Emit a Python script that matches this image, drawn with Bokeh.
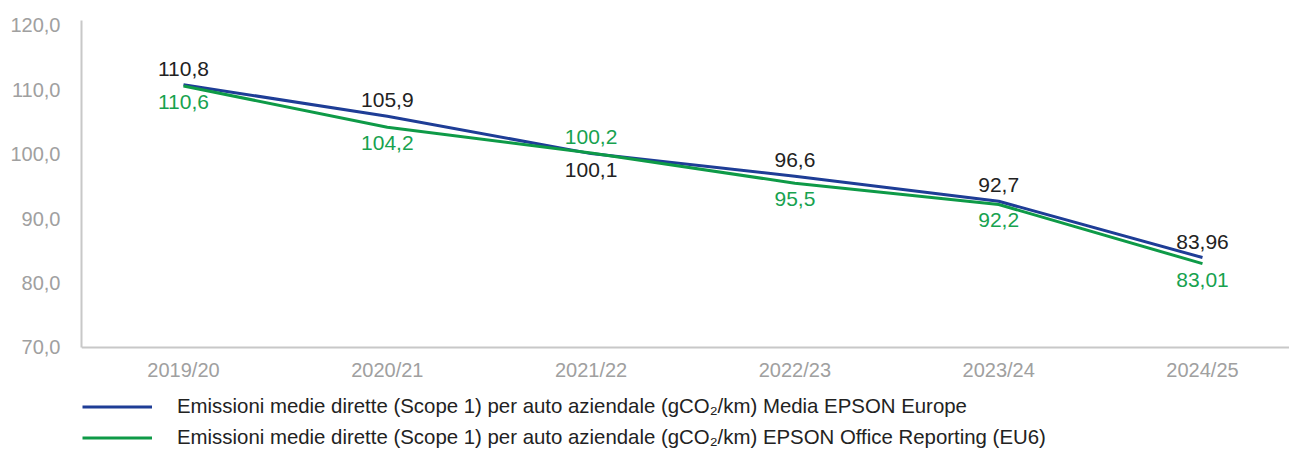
from bokeh.plotting import figure
from bokeh.models import (ColumnDataSource, Range1d, FixedTicker, Legend, LegendItem)
from bokeh.core.properties import value
from bokeh.embed import file_html
from bokeh.resources import INLINE

# ---- data ----
years = ["2019/20", "2020/21", "2021/22", "2022/23", "2023/24", "2024/25"]
europe = [110.8, 105.9, 100.1, 96.6, 92.7, 83.96]
office = [110.6, 104.2, 100.2, 95.5, 92.2, 83.01]
europe_labels = ["110,8", "105,9", "100,1", "96,6", "92,7", "83,96"]
office_labels = ["110,6", "104,2", "100,2", "95,5", "92,2", "83,01"]
europe_name = "Emissioni medie dirette (Scope 1) per auto aziendale (gCO\u2082/km) Media EPSON Europe"
office_name = "Emissioni medie dirette (Scope 1) per auto aziendale (gCO\u2082/km) EPSON Office Reporting (EU6)"
y_ticks = [70, 80, 90, 100, 110, 120]
y_axis_min = 70

# label placement (style): +1 above, -1 below
europe_place = [1, 1, -1, 1, 1, 1]
office_place = [-1, -1, 1, -1, -1, -1]

BLUE = "#1e3d96"
GREEN = "#0e9a47"
GREEN_TXT = "#17a24f"
FONT = "Liberation Sans"

xs = list(range(len(years)))

p = figure(width=1289, height=449, output_backend="svg", toolbar_location=None,
           x_range=Range1d(-0.5005, 5.427), y_range=Range1d(54.15, 120.77),
           min_border_left=81, min_border_right=0, min_border_top=20,
           min_border_bottom=0)
p.outline_line_color = None
p.grid.visible = False
p.background_fill_color = "white"
p.border_fill_color = "white"

r1 = p.line(xs, europe, line_color=BLUE, line_width=3)
r2 = p.line(xs, office, line_color=GREEN, line_width=3)

src_e = ColumnDataSource(dict(x=xs, y=europe, t=europe_labels,
                              off=[-16 * s for s in europe_place]))
src_o = ColumnDataSource(dict(x=xs, y=office, t=office_labels,
                              off=[-16 * s for s in office_place]))
p.text("x", "y", text="t", y_offset="off", source=src_e, text_align="center",
       text_baseline="middle", text_font=value(FONT), text_font_size="21px",
       text_color="#222222")
p.text("x", "y", text="t", y_offset="off", source=src_o, text_align="center",
       text_baseline="middle", text_font=value(FONT), text_font_size="21px",
       text_color=GREEN_TXT)

for ax in (p.xaxis[0], p.yaxis[0]):
    ax.axis_line_color = "#c8c8c8"
    ax.axis_line_width = 2
    ax.major_tick_line_color = None
    ax.minor_tick_line_color = None
    ax.major_label_text_color = "#a0a0a0"
    ax.major_label_text_font = FONT
    ax.major_label_text_font_size = "20px"

p.xaxis.ticker = FixedTicker(ticks=xs)
p.xaxis.major_label_overrides = {i: y for i, y in enumerate(years)}
p.xaxis.major_label_standoff = 6
p.xaxis.fixed_location = y_axis_min
p.yaxis.ticker = FixedTicker(ticks=y_ticks)
p.yaxis.major_label_overrides = {v: f"{v},0" for v in y_ticks}
p.yaxis.major_label_standoff = 15
p.yaxis.bounds = (y_axis_min, 120.77)

legend = Legend(items=[LegendItem(label=europe_name, renderers=[r1]),
                       LegendItem(label=office_name, renderers=[r2])],
                orientation="vertical", location=(1, 0),
                glyph_width=70, glyph_height=23, label_height=23,
                label_standoff=25, spacing=8, padding=0, margin=0,
                border_line_color=None, background_fill_alpha=0,
                label_text_font=FONT, label_text_font_size="20.4px",
                label_text_color="#222222")
p.add_layout(legend, "center")

open("out.html", "w").write(file_html(p, INLINE))
